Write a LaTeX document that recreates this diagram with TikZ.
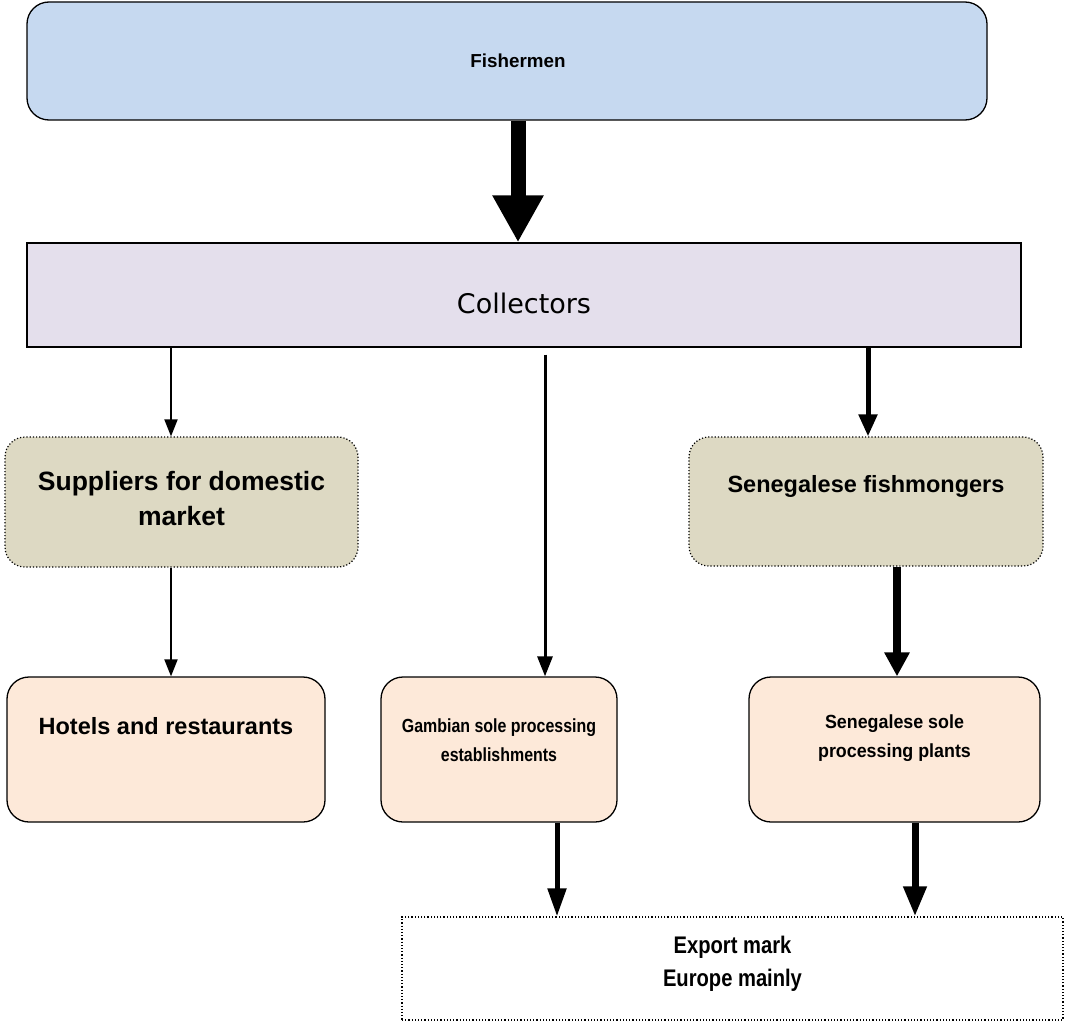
\documentclass[tikz,border=0pt]{standalone}
\usepackage{fontspec}
\setmainfont{Liberation Sans}
\newfontfamily\collfont{DejaVu Sans}
\usetikzlibrary{arrows.meta}
\definecolor{fishblue}{RGB}{198,217,240}
\definecolor{colllav}{RGB}{228,223,236}
\definecolor{tan}{RGB}{221,217,195}
\definecolor{peach}{RGB}{253,233,217}
\tikzset{
  box/.style={draw=black, line width=1.3pt, inner sep=0pt},
  rbox/.style={box, rounded corners=22pt},
  dotbox/.style={draw=black, line width=1.2pt, dotted, inner sep=0pt},
  lbl/.style={align=center, font=\bfseries, inner sep=0pt},
  arr/.style args={#1/#2/#3}{draw=black, line width=#1pt, -{Triangle[width=#2pt, length=#3pt]}},
}
\begin{document}
\begin{tikzpicture}[x=1pt, y=-1pt]
\useasboundingbox (0,0) rectangle (1070,1022);
% boxes
\node[rbox, fill=fishblue, minimum width=960pt, minimum height=118pt] (fish) at (507,61) {};
\node[box, fill=colllav, minimum width=994pt, minimum height=104pt] (coll) at (524,295) {};
\node[dotbox, fill=tan, rounded corners=20pt, minimum width=353pt, minimum height=130pt] (sup) at (181.5,502) {};
\node[dotbox, fill=tan, rounded corners=20pt, minimum width=354pt, minimum height=129pt] (fmg) at (866,501.5) {};
\node[rbox, fill=peach, minimum width=318pt, minimum height=145pt] (hot) at (166,749.5) {};
\node[rbox, fill=peach, minimum width=236pt, minimum height=145pt] (gam) at (499,749.5) {};
\node[rbox, fill=peach, minimum width=291pt, minimum height=145pt] (sen) at (894.5,749.5) {};
\node[dotbox, fill=white, minimum width=661pt, minimum height=103pt] (exp) at (732.5,968.5) {};
% texts
\node[lbl, font=\bfseries\fontsize{18.8}{22}\selectfont] (tfish) at ([xshift=11pt]fish.center) {Fishermen};
\node[font=\collfont\fontsize{27}{30}\selectfont, inner sep=0pt] (tcoll) at ([yshift=-8pt]coll.center) {Collectors};
\node[lbl, font=\bfseries\fontsize{26.5}{35}\selectfont] (tsup) at ([yshift=3pt]sup.center) {Suppliers for domestic\\market};
\node[lbl, font=\bfseries\fontsize{23.5}{28}\selectfont] (tfmg) at ([yshift=-50pt]fmg.north) {Senegalese fishmongers};
\node[lbl, font=\bfseries\fontsize{23.5}{28}\selectfont] (thot) at ([yshift=-50pt]hot.north) {Hotels and restaurants};
\node[lbl, font=\bfseries\fontsize{19}{29}\selectfont] (tgam) at ([yshift=-64pt]gam.north) {\scalebox{0.84}[1]{Gambian sole processing}\\\scalebox{0.84}[1]{establishments}};
\node[lbl, font=\bfseries\fontsize{19}{29}\selectfont] (tsen) at ([yshift=-62pt]sen.north) {\scalebox{0.94}[1]{Senegalese sole}\\\scalebox{0.94}[1]{processing plants}};
\node[lbl, font=\bfseries\fontsize{24}{33}\selectfont] (texp) at ([yshift=-47pt]exp.north) {\scalebox{0.84}[1]{Export mark}\\\scalebox{0.84}[1]{Europe mainly}};
% arrows
\draw[line width=15pt, -{Triangle[width=48pt, length=47pt]}] ([xshift=11pt]fish.south) -- ([xshift=11pt]fish.south |- coll.north);
\draw[arr=2/13/17] ([xshift=-10.5pt]sup.north |- coll.south) -- ([xshift=-10.5pt]sup.north);
\draw[arr=3/15/20] ([xshift=46pt,yshift=-7pt]gam.north |- coll.south) -- ([xshift=46pt]gam.north);
\draw[arr=5/18/22] ([xshift=2pt]fmg.north |- coll.south) -- ([xshift=2pt]fmg.north);
\draw[arr=2/13/17] ([xshift=5pt]hot.north |- sup.south) -- ([xshift=5pt]hot.north);
\draw[arr=8/24/24] ([xshift=2.5pt]sen.north |- fmg.south) -- ([xshift=2.5pt]sen.north);
\draw[arr=5/18/28] ([xshift=58pt]gam.south) -- ([xshift=58pt]gam.south |- exp.north);
\draw[arr=7/22/30] ([xshift=20.5pt]sen.south) -- ([xshift=20.5pt]sen.south |- exp.north);
\end{tikzpicture}
\end{document}
